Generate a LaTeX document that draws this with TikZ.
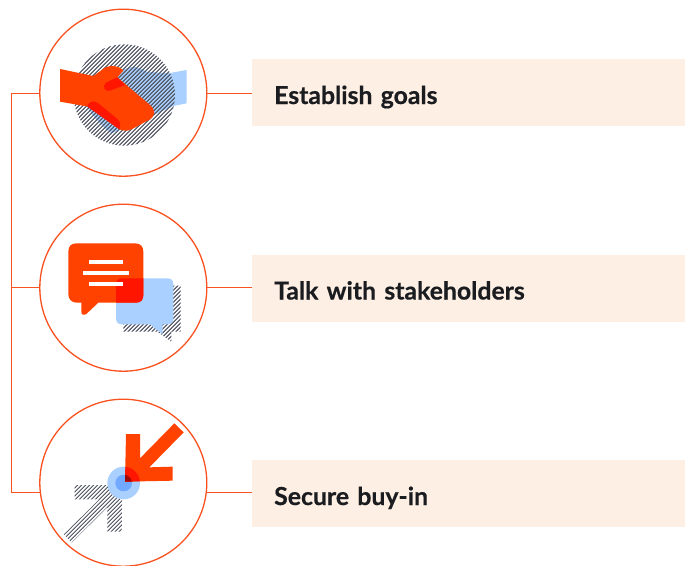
\documentclass[tikz,border=0pt]{standalone}
\usepackage{fontspec}
\setmainfont{Lato}
\definecolor{org}{HTML}{FF4200}
\definecolor{lin}{HTML}{F9511F}
\definecolor{blu}{HTML}{AAD0FF}
\definecolor{blu2}{HTML}{70A9FF}
\definecolor{rd}{HTML}{FF1500}
\definecolor{drk}{HTML}{A00808}
\definecolor{pan}{HTML}{FDEFE3}
\definecolor{hat}{HTML}{4A4F5C}
\definecolor{ink}{HTML}{1A1C20}
\tikzset{
 ring/.style={circle,draw=lin,line width=1.3pt,minimum size=167pt,inner sep=0pt,fill=white},
 panel/.style={fill=pan,minimum width=433pt,minimum height=67pt,anchor=west,text width=433pt,text height=23pt,text depth=0pt,align=left,inner sep=0pt,font=\bfseries\fontsize{24.8}{28}\selectfont\addfontfeature{FakeBold=0.5},text=ink},
 link/.style={draw=lin,line width=1.3pt},
 icon/.style={x=0.33333pt,y=-0.33333pt},
}
\newcommand{\hatchlines}{\foreach \k in {-60,...,60}{\draw[hat,line width=0.95pt] (280+\k*12-300,580) -- (280+\k*12+300,-20);}}
\begin{document}
\begin{tikzpicture}[x=1pt,y=-1pt]
\useasboundingbox (0,0) rectangle (685,565);
\begin{scope}
\clip (0,0) rectangle (685,565);
\node[ring] (c1) at (123.3,92.7) {};
\node[ring] (c2) at (123.3,287.7) {};
\node[ring] (c3) at (123.3,482.7) {};
\end{scope}
\node[panel] (p1) at (252,92.5) {\hspace*{22pt}Establish goals};
\node[panel] (p2) at (252,288) {\hspace*{22pt}Talk with stakeholders};
\node[panel] (p3) at (252,493.5) {\hspace*{22pt}Secure buy-in};
\coordinate (t1) at (11.5,93.5);
\coordinate (t2) at (11.5,287.5);
\coordinate (t3) at (11.5,492.3);
\draw[link] (40.2,93.5) -- (t1) -- (t3) -- (40.2,492.3);
\draw[link] (t2) -- (c2.west |- t2);
\draw[link] (c1.east |- 0,93.5) -- (p1.west |- 0,93.5);
\draw[link] (c2.east |- 0,287.5) -- (p2.west |- 0,287.5);
\draw[link] (c3.east |- 0,492.3) -- (p3.west |- 0,492.3);
% handshake
\begin{scope}[shift={(30pt,0pt)},icon]
\fill[blu] (470,210) -- (415,220) -- (350,215) .. controls (320,195) and (290,195) .. (260,225) -- (170,320) .. controls (190,350) and (220,385) .. (245,400) -- (370,345) -- (430,318) -- (470,310) -- cycle;
\begin{scope}
\clip (283,285) circle [radius=152];
\hatchlines
\end{scope}
\fill[org] (90,207) -- (190,228) -- (225,203) .. controls (240,195) and (265,195) .. (280,212) -- (262,232) -- (360,315) .. controls (376,328) and (378,345) .. (360,358) -- (305,388) .. controls (290,394) and (280,393) .. (268,388) -- (175,320) -- (90,305) -- cycle;
\fill[rd] (262,232) -- (285,255) -- (240,272) .. controls (225,276) and (215,260) .. (228,248) -- cycle;
\fill[rd] (172,320) .. controls (175,305) and (190,298) .. (205,310) -- (262,357) .. controls (272,365) and (272,378) .. (268,388) -- cycle;
\end{scope}
% speech
\begin{scope}[shift={(30pt,-195pt)},icon]
\newcommand{\bubbleorg}{(115,170) .. controls (115,152) and (125,145) .. (140,145) -- (315,145) .. controls (332,145) and (340,155) .. (340,170) -- (340,300) .. controls (340,315) and (332,323) .. (318,323) -- (205,323) -- (168,358) .. controls (162,362) and (154,360) .. (154,350) -- (154,323) -- (140,323) .. controls (125,323) and (115,312) .. (115,298) -- cycle}
\newcommand{\bubbleblu}{(258,268) .. controls (258,256) and (265,250) .. (276,250) -- (412,250) .. controls (424,250) and (430,256) .. (430,268) -- (430,370) .. controls (430,382) and (424,388) .. (412,388) -- (398,388) -- (398,418) -- (360,388) -- (276,388) .. controls (265,388) and (258,382) .. (258,370) -- cycle}
\begin{scope}
\clip (280,272) -- (452,272) -- (452,410) -- (424,410) -- (424,440) -- (382,410) -- (280,410) -- cycle;
\hatchlines
\end{scope}
\fill[blu] \bubbleblu;
\fill[org] \bubbleorg;
\begin{scope}
\clip \bubbleblu;
\fill[rd] \bubbleorg;
\end{scope}
\fill[white] (177,195) rectangle (278,207);
\fill[white] (160,228) rectangle (296,240);
\fill[white] (177,262) rectangle (278,273);
\end{scope}
% arrows
\begin{scope}[shift={(30pt,-390pt)},icon]
\begin{scope}
\clip (134,285) -- (277,285) -- (275,425) -- (232,425) -- (232,352) -- (125,458) -- (102,433) -- (208,328) -- (134,328) -- cycle;
\hatchlines
\end{scope}
\fill[blu] (281,279) circle [radius=49];
\fill[blu2] (281,279) circle [radius=25];
\newcommand{\orgarrow}{(288,132) -- (330,132) -- (330,205) -- (433,100) -- (461,127) -- (358,232) -- (428,230) -- (428,272) -- (285,275) -- cycle}
\fill[org] \orgarrow;
\begin{scope}
\clip \orgarrow;
\fill[rd] (281,279) circle [radius=49];
\fill[drk] (281,279) circle [radius=25];
\end{scope}
\end{scope}
\end{tikzpicture}
\end{document}
